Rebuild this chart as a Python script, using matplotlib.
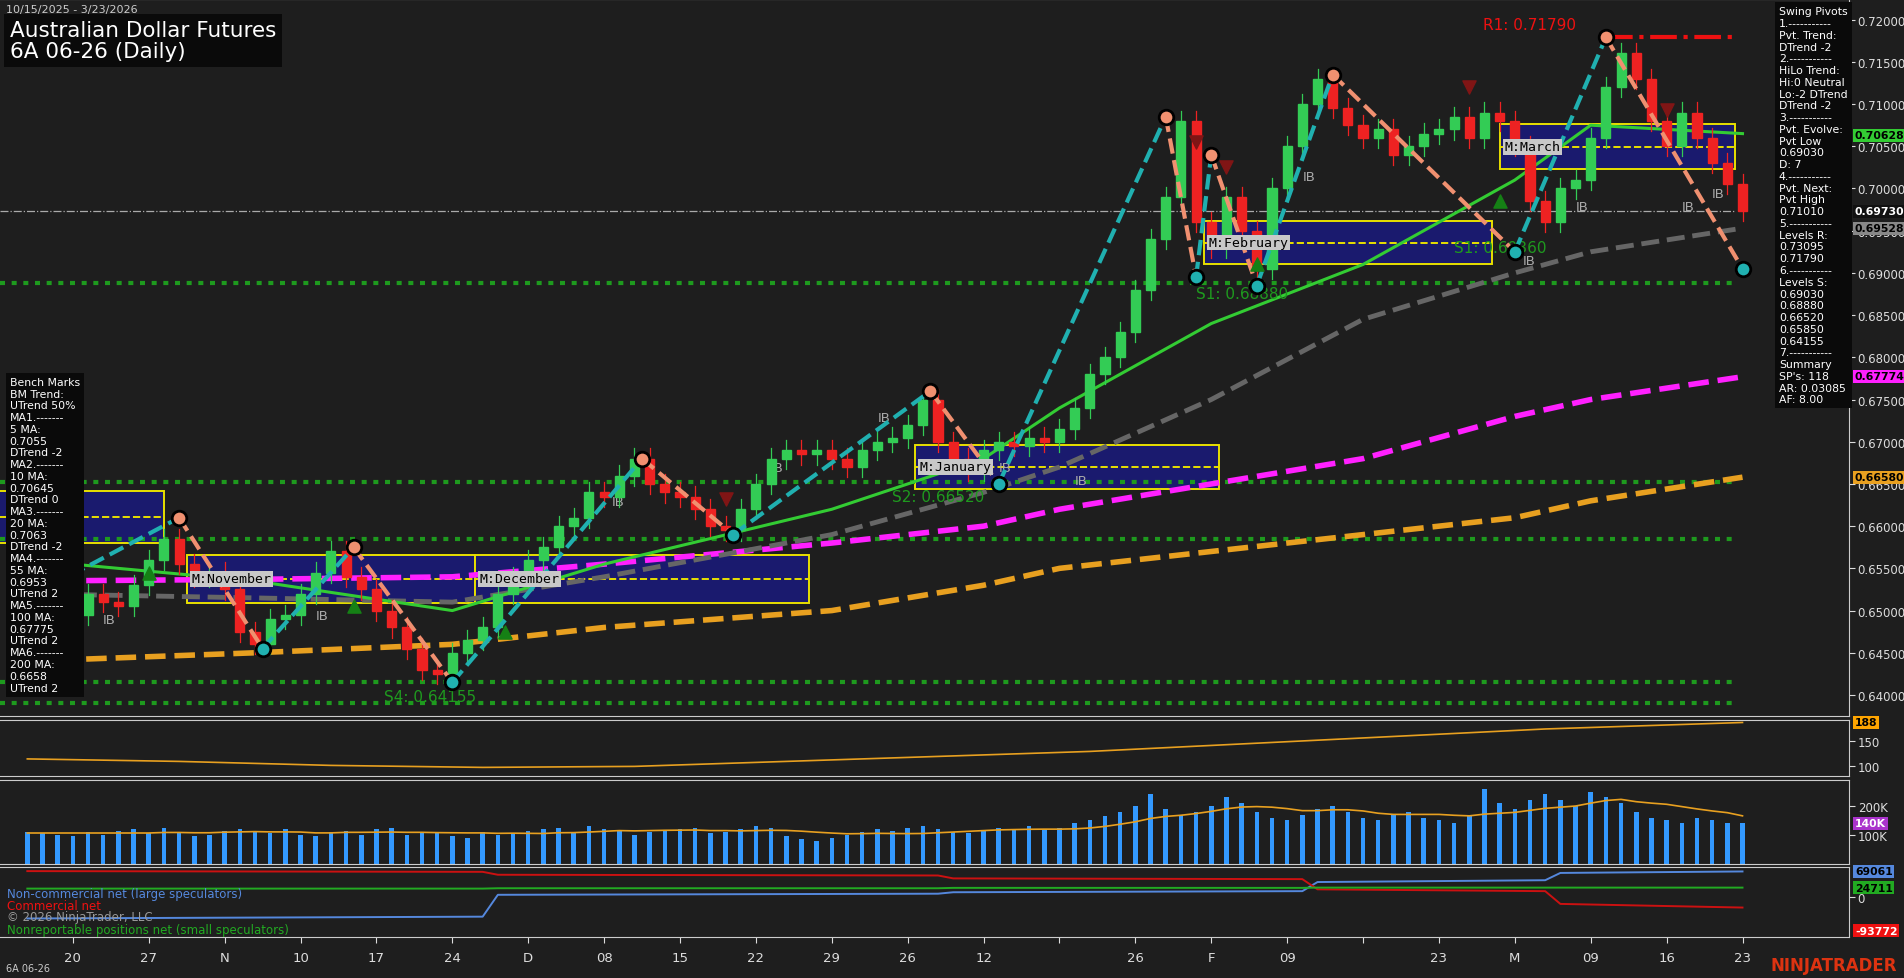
import matplotlib
matplotlib.use("Agg")
import matplotlib.pyplot as plt
import numpy as np
from matplotlib.patches import Rectangle

W, H = 1568, 806   # layout coordinate space (figure saved at 1904x979)
closes = [0.6500,0.6515,0.6505,
 0.6495,0.6520,0.6510,0.6505,0.6530,
 0.6560,0.6585,0.6555,0.6540,0.6545,
 0.6525,0.6475,0.6460,0.6490,0.6495,
 0.6520,0.6545,0.6570,0.6540,0.6525,
 0.6500,0.6480,0.6455,0.6430,0.6425,
 0.6450,0.6465,0.6480,0.6520,0.6540,
 0.6560,0.6575,0.6600,0.6610,0.6640,
 0.6635,0.6660,0.6680,0.6650,0.6640,
 0.6635,0.6620,0.6600,0.6595,0.6620,
 0.6650,0.6680,0.6690,0.6685,0.6690,
 0.6680,0.6670,0.6690,0.6700,0.6705,
 0.6720,0.6750,0.6700,0.6680,0.6665,
 0.6690,0.6700,0.6695,0.6705,0.6700,
 0.6715,0.6740,0.6780,0.6800,0.6830,
 0.6880,0.6940,0.6990,0.7080,0.6960,
 0.6930,0.6990,0.6950,0.6905,0.7000,
 0.7050,0.7100,0.7130,0.7095,0.7075,
 0.7060,0.7070,0.7040,0.7050,0.7065,
 0.7070,0.7085,0.7060,0.7090,0.7080,
 0.7050,0.6985,0.6960,0.7000,0.7010,
 0.7060,0.7120,0.7160,0.7130,0.7080,
 0.7050,0.7090,0.7060,0.7030,0.7005,
 0.6973]
first_open = 0.6490
wick = 0.0012

tick_idx = [3+5*k for k in range(23)]
tick_lab = ["20","27","N","10","17","24","D","08","15","22","29","26","12","","26","F","09","","23","M","09","16","23"]

ma_x = [0,15,28,38,53,63,68,78,88,98,103,113]
ma20 = [0.6560,0.6535,0.6500,0.6555,0.6620,0.6680,0.6740,0.6840,0.6910,0.7010,0.7075,0.7065]
ma55 = [0.6520,0.6515,0.6510,0.6540,0.6590,0.6640,0.6670,0.6750,0.6845,0.6900,0.6925,0.6953]
ma100 = [0.6535,0.6537,0.6540,0.6555,0.6580,0.6600,0.6620,0.6650,0.6680,0.6730,0.6750,0.6777]
ma200 = [0.6440,0.6450,0.6460,0.6480,0.6500,0.6530,0.6550,0.6570,0.6590,0.6610,0.6630,0.6658]

piv_i = [-1,10,15.5,21.5,28,40.5,46.5,59.5,64,75,77,78,81,86,98,104,113]
piv_p = [0.6505,0.6610,0.6455,0.6575,0.6415,0.6680,0.6590,0.6760,0.6650,0.7085,0.6895,0.7040,0.6885,0.7135,0.6925,0.7179,0.6905]

box_s = [-2,10.5,29.5,58.5,77.5,97]
box_e = [9,29.5,51.5,78.5,96.5,112.5]
box_t = [0.66417,0.65655,0.65655,0.66964,0.69612,0.70763]
box_b = [0.65799,0.65094,0.65094,0.66446,0.69108,0.70230]
box_l = ["","M:November","M:December","M:January","M:February","M:March"]

lvl = [0.6888,0.6652,0.6585,0.64155,0.6390]

vol_k = [110,105,100,95,110,100,115,120,105,125,110,95,100,115,120,110,105,120,100,95,
 110,115,100,120,125,100,105,110,95,90,110,100,105,115,120,125,110,130,120,115,
 100,110,115,120,125,105,110,120,130,125,95,85,80,90,100,110,120,115,125,130,
 120,110,105,115,125,120,130,120,125,140,150,165,180,200,240,190,170,180,200,230,
 210,180,160,150,170,190,200,180,160,150,170,180,160,150,140,170,260,210,190,220,
 240,220,200,250,230,210,180,160,150,140,160,150,140,140]
p1_x = [0,10,20,30,40,50,60,70,80,90,100,113]
p1_v = [115,110,102,98,100,110,120,130,145,160,175,188]
cot_x = [0,30,31,60,61,84,85,100,101,113]
cot_nc = [-60000,-55000,5000,8000,12000,15000,40000,45000,65000,69061]
cot_c = [70000,68000,60000,58000,50000,48000,20000,15000,-20000,-30000]
cot_s = [22000,22000,23000,23000,24000,24000,24711,24711,24711,24711]

n = len(closes)
opens = [first_open] + closes[:-1]
x = np.arange(n)

BG = "#1e1e1e"
fig = plt.figure(figsize=(19.04, 9.79), dpi=100, facecolor=BG)
def pax(x0, y0, x1, y1):
    a = fig.add_axes([x0/W, 1-y1/H, (x1-x0)/W, (y1-y0)/H], facecolor=BG)
    for s in a.spines.values():
        s.set_color("#cccccc")
    a.spines["left"].set_visible(False)
    a.tick_params(colors="#dddddd", labelsize=8.5, length=4, width=0.8, pad=2)
    a.yaxis.tick_right()
    return a

XL = (3-60/12.5, 3+1463/12.5)
ax = pax(0, 0, 1523, 590)
ax.set_xlim(*XL)
ax.set_ylim(0.72-573/6950, 0.72+17/6950)
yt = np.arange(0.64, 0.7201, 0.005)
ax.set_yticks(yt); ax.set_yticklabels([f"{v:.5f}" for v in yt])
ax.set_xticks([])

for s, e, t, b, l in zip(box_s, box_e, box_t, box_b, box_l):
    ax.add_patch(Rectangle((s, b), e-s, t-b, facecolor="#1a1a6e", edgecolor="#e8e000", lw=1.4, zorder=1))
    ax.plot([s, e], [(t+b)/2]*2, color="#e8e000", ls="--", lw=1.4, zorder=2)
    if l:
        ax.text(s+0.3, (t+b)/2, l, color="black", fontsize=9.5, family="DejaVu Sans Mono",
                va="center", bbox=dict(facecolor="#c8c8c8", edgecolor="none", pad=1), zorder=6)
for v in lvl:
    ax.plot([XL[0], 112.5], [v, v], color="#1e9a1e", ls=(0, (1.2, 1.6)), lw=3, zorder=2)
ax.plot([XL[0], 112.5], [0.6973]*2, color="#aaaaaa", ls="-.", lw=0.9, zorder=2)

ax.plot(ma_x, ma200, color="#e8a020", ls="--", lw=4, zorder=3)
ax.plot(ma_x, ma100, color="#ff20ff", ls="--", lw=4, zorder=3)
ax.plot(ma_x, ma55, color="#666666", ls="--", lw=3.5, zorder=3)
ax.plot(ma_x, ma20, color="#33cc33", lw=2.2, zorder=3)

for i in range(n):
    o, c = opens[i], closes[i]
    col = "#33cc55" if c >= o else "#ee2222"
    ax.plot([i, i], [min(o, c)-wick, max(o, c)+wick], color=col, lw=0.9, zorder=4)
    ax.add_patch(Rectangle((i-0.3, min(o, c)), 0.6, max(abs(c-o), 0.0002), facecolor=col, edgecolor=col, zorder=4))

for k in range(len(piv_i)-1):
    up = piv_p[k+1] > piv_p[k]
    ax.plot(piv_i[k:k+2], piv_p[k:k+2], color="#20b0b0" if up else "#f09070", ls="--", lw=3, zorder=5)
for k, (i, p) in enumerate(zip(piv_i, piv_p)):
    if k == 0: continue
    hi = (k < len(piv_p)-1 and piv_p[k] > piv_p[k+1]) or (k == len(piv_p)-1 and piv_p[k] > piv_p[k-1])
    ax.scatter([i], [p], s=110, color="#f09070" if hi else "#20b0b0", edgecolor="black", lw=2, zorder=7)

ax.plot([104, 112.5], [0.7179, 0.7179], color="#ee1111", ls="-.", lw=3, zorder=5)
ax.text(102, 0.7189, "R1: 0.71790", color="#ee1111", fontsize=11, ha="right")
ax.text(77, 0.6870, "S1: 0.68880", color="#1e9a1e", fontsize=11)
ax.text(94, 0.6925, "S1: 0.69360", color="#1e9a1e", fontsize=11)
ax.text(57, 0.6630, "S2: 0.66520", color="#1e9a1e", fontsize=11)
ax.text(23.5, 0.6393, "S4: 0.64155", color="#1e9a1e", fontsize=11)
for i, p in [(5, 0.6485), (19, 0.6490), (38.5, 0.6625), (56, 0.6725), (64, 0.6665), (69, 0.6650), (84, 0.7010), (98.5, 0.6910), (102, 0.6975), (109, 0.6975), (111, 0.6990), (49, 0.6665)]:
    ax.text(i, p, "IB", color="#aaaaaa", fontsize=9.5)
for i, p in [(8, 0.6545), (21.5, 0.6505), (31.5, 0.6475), (81, 0.6910), (97, 0.6985)]:
    ax.scatter([i], [p], marker="^", s=90, color="#158015", zorder=6)
for i, p in [(46, 0.6632), (77, 0.7055), (79, 0.7025), (95, 0.7120), (108, 0.7093)]:
    ax.scatter([i], [p], marker="v", s=90, color="#801515", zorder=6)

def rlab(a, y, txt, fc, tc="black"):
    a.text(1.003, y, txt, transform=a.get_yaxis_transform(), fontsize=7.8, color=tc, va="center",
           fontweight="bold", bbox=dict(facecolor=fc, edgecolor="none", pad=1.2), zorder=10, clip_on=False)
rlab(ax, 0.70628, "0.70628", "#33cc33")
rlab(ax, 0.69730, "0.69730", "#111111", "white")
rlab(ax, 0.69528, "0.69528", "#888888")
rlab(ax, 0.67774, "0.67774", "#ff20ff")
rlab(ax, 0.66580, "0.66580", "#e8a020")

fig.text(8/W, 1-17/H, "Australian Dollar Futures\n6A 06-26 (Daily)", color="white", fontsize=15.5, va="top",
         linespacing=1.1, bbox=dict(facecolor="#0a0a0a", edgecolor="none", pad=4))
fig.text(5/W, 1-8/H, "10/15/2025 - 3/23/2026", color="#cccccc", fontsize=8, va="center")
swing = ("Swing Pivots\n1.-----------\nPvt. Trend:\nDTrend -2\n2.-----------\nHiLo Trend:\nHi:0 Neutral\nLo:-2 DTrend\n"
 "DTrend -2\n3.-----------\nPvt. Evolve:\nPvt Low\n0.69030\nD: 7\n4.-----------\nPvt. Next:\nPvt High\n0.71010\n"
 "5.-----------\nLevels R:\n0.73095\n0.71790\n6.-----------\nLevels S:\n0.69030\n0.68880\n0.66520\n0.65850\n0.64155\n"
 "7.-----------\nSummary\nSP's: 118\nAR: 0.03085\nAF: 8.00")
fig.text(1465/W, 1-6/H, swing, color="white", fontsize=7.8, va="top", linespacing=1.22,
         bbox=dict(facecolor="#0a0a0a", edgecolor="none", pad=3))
bench = ("Bench Marks\nBM Trend:\nUTrend 50%\nMA1.-------\n5 MA:\n0.7055\nDTrend -2\nMA2.-------\n10 MA:\n0.70645\nDTrend 0\n"
 "MA3.-------\n20 MA:\n0.7063\nDTrend -2\nMA4.-------\n55 MA:\n0.6953\nUTrend 2\nMA5.-------\n100 MA:\n0.67775\nUTrend 2\n"
 "MA6.-------\n200 MA:\n0.6658\nUTrend 2")
fig.text(8/W, 1-311/H, bench, color="white", fontsize=7.8, va="top", linespacing=1.22,
         bbox=dict(facecolor="#0a0a0a", edgecolor="none", pad=3))

a1 = pax(0, 594, 1523, 640)
a1.set_xlim(*XL); a1.set_ylim(80, 192); a1.set_xticks([])
a1.plot(p1_x, p1_v, color="#e8a020", lw=1.2)
a1.set_yticks([100, 150])
rlab(a1, 188, "188", "#ffa500")

a2 = pax(0, 643, 1523, 712)
a2.set_xlim(*XL); a2.set_ylim(0, 290); a2.set_xticks([])
a2.bar(x, vol_k, width=0.3, color="#3399ff")
vk = np.array(vol_k, float)
vma = np.convolve(vk, np.ones(10)/10, mode="full")[:n]; vma[:9] = vk[:9].mean()
a2.plot(x, vma, color="#e8a020", lw=1.2)
a2.set_yticks([100, 200]); a2.set_yticklabels(["100K", "200K"])
rlab(a2, 140, "140K", "#aa33cc", "white")

a3 = pax(0, 715, 1523, 772)
a3.set_xlim(*XL); a3.set_ylim(-110000, 80000)
a3.plot(cot_x, cot_nc, color="#5588dd", lw=1.4)
a3.plot(cot_x, cot_c, color="#cc1111", lw=1.4)
a3.plot(cot_x, cot_s, color="#22aa22", lw=1.4)
a3.set_yticks([0])
rlab(a3, 69061, "69061", "#5588dd")
rlab(a3, 24711, "24711", "#22aa22")
rlab(a3, -93772, "-93772", "#ee1111", "white")
a3.text(0.004, 0.58, "Non-commercial net (large speculators)", transform=a3.transAxes, color="#5588dd", fontsize=8.5)
a3.text(0.004, 0.40, "Commercial net", transform=a3.transAxes, color="#ee1111", fontsize=8.5)
a3.text(0.004, 0.24, "© 2026 NinjaTrader, LLC", transform=a3.transAxes, color="#999999", fontsize=8.5)
a3.text(0.004, 0.06, "Nonreportable positions net (small speculators)", transform=a3.transAxes, color="#22aa22", fontsize=8.5)
a3.set_xticks(tick_idx); a3.set_xticklabels(tick_lab)
a3.tick_params(axis="x", pad=6, labelsize=9.5, length=4)

fig.text(5/W, 1-798/H, "6A 06-26", color="#cccccc", fontsize=7, va="center")
fig.text(1562/W, 1-795/H, "NINJATRADER", color="#dd3311", fontsize=12, va="center", ha="right", fontweight="bold")
fig.savefig("out.png", dpi=100, facecolor=BG)
